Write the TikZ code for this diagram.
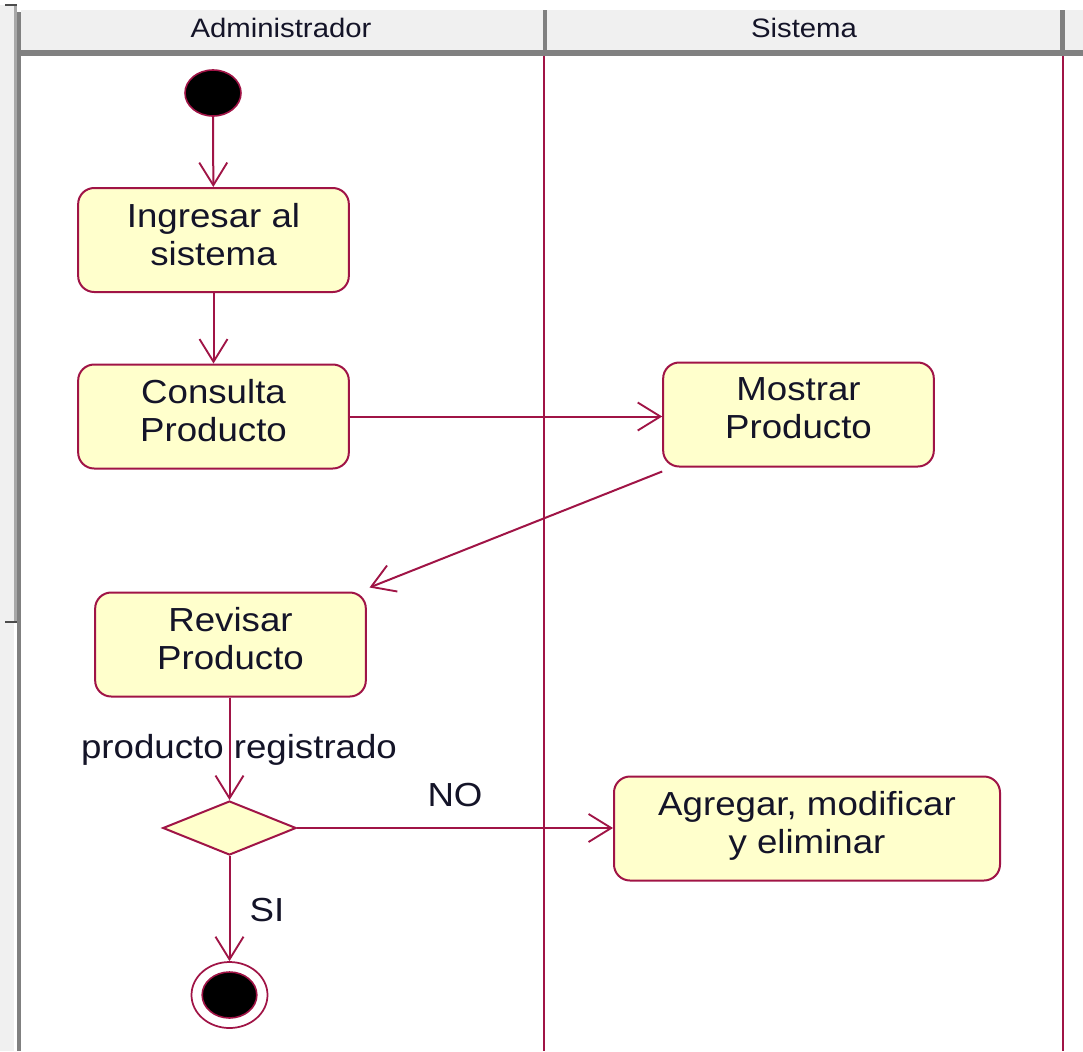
\documentclass[tikz,border=0pt]{standalone}
\usepackage{fontspec}
\setmainfont{Liberation Sans}[FakeStretch=1.1]
\usetikzlibrary{arrows.meta,shapes.geometric}
\definecolor{rose}{RGB}{160,20,70}
\definecolor{actfill}{RGB}{255,255,204}
\definecolor{hdr}{RGB}{240,240,240}
\definecolor{hdrdark}{RGB}{128,128,128}
\definecolor{hdrmid}{RGB}{168,168,168}
\definecolor{txt}{RGB}{20,20,40}
\begin{document}
\begin{tikzpicture}[x=0.75pt,y=-0.75pt,
  activity/.style={draw=rose, line width=1.5pt, fill=actfill, rounded corners=12pt,
    minimum width=203pt, minimum height=78pt, align=center, inner sep=0pt,
    text=txt, font=\fontsize{25}{28.5}\selectfont,
    execute at end node={\rule[-9pt]{0pt}{0pt}}},
  flow/.style={draw=rose, line width=1.5pt,
    -{Straight Barb[length=17pt,width=21pt,line width=1.4pt]}},
  lbl/.style={inner sep=0pt, text=txt, font=\fontsize{25}{29}\selectfont},
  hdrtext/.style={inner sep=0pt, text=txt, font=\fontsize{20}{23}\selectfont},
  lane/.style={draw=rose, line width=1.8pt},
  initnode/.style={ellipse, draw=rose, fill=black, line width=1.2pt, inner sep=0pt,
    minimum width=42pt, minimum height=34.5pt},
  finalouter/.style={ellipse, draw=rose, line width=1.3pt, inner sep=0pt,
    minimum width=57pt, minimum height=49.5pt},
  finalinner/.style={ellipse, draw=rose, fill=black, line width=1.2pt, inner sep=0pt,
    minimum width=41pt, minimum height=34.5pt},
  decision/.style={diamond, draw=rose, fill=actfill, line width=1.5pt, inner sep=0pt,
    minimum width=100pt, minimum height=40.5pt}
]
\useasboundingbox (0,0) rectangle (1083,1051);
\fill[white] (0,0) rectangle (1083,1051);
% left frame strip
\fill[hdr] (0,5) rectangle (14,1051);
\fill[hdrmid] (14,5) rectangle (17,622);
\fill[hdrdark] (17,12) rectangle (21,1051);
\draw[black!70, line width=0.8pt] (5,5) -- (17,5);
\draw[black!70, line width=0.8pt] (5,622) -- (17,622);
% header
\fill[hdr] (21,10) rectangle (1083,50);
\fill[hdrdark] (21,50) rectangle (1083,56);
\fill[hdrdark] (543,10) rectangle (547,50);
\fill[hdrdark] (1060,10) rectangle (1065,50);
\node[hdrtext] (hadmin) at (281,28) {Administrador};
\node[hdrtext] (hsis) at (804,28) {Sistema};
% lanes
\draw[lane] (544,56) -- (544,1051);
\draw[lane] (1063,56) -- (1063,1051);
% nodes
\node[initnode] (init) at (213,93) {};
\node[activity] (ingresar) at (213.5,240) {Ingresar al\\sistema};
\node[activity] (consulta) at (213.5,416.5) {Consulta\\Producto};
\node[activity] (mostrar) at (798.5,414.5) {Mostrar\\Producto};
\node[activity] (revisar) at (230.5,644.5) {Revisar\\Producto};
\node[decision] (dec) at (229.5,828) {};
\node[activity, minimum width=289.5pt] (agregar) at (807,828.5) {Agregar, modificar\\y eliminar};
\node[finalouter] (fin) at (229.5,995) {};
\node[finalinner] (fininner) at (229.5,995) {};
% connectors
\draw[flow] (init) -- (ingresar);
\draw[flow] (ingresar) -- (consulta);
\draw[flow] (consulta.east) -- (consulta.east -| mostrar.west);
\draw[flow] ([yshift=-3pt]mostrar.south west) -- ([xshift=2pt,yshift=3pt]revisar.north east);
\draw[flow] (revisar.south -| dec.north) -- (dec.north);
\draw[flow] (dec.east) -- (dec.east -| agregar.west);
\draw[flow] (dec.south) -- (fin.north);
% labels
\node[lbl] (lprod) at (239,750) {producto registrado};
\node[lbl] (lno) at (455,795) {NO};
\node[lbl] (lsi) at (267,910) {SI};
\end{tikzpicture}
\end{document}
